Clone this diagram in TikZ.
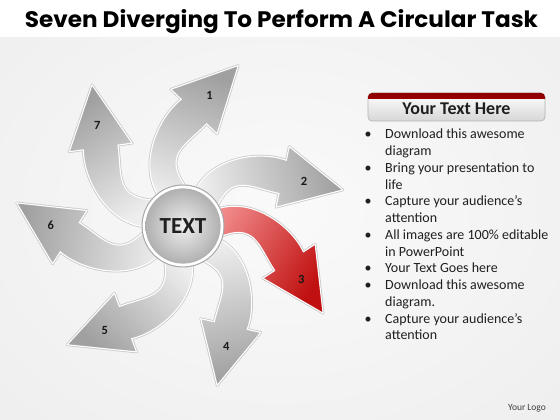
\documentclass[tikz,border=0pt]{standalone}
\usepackage{fontspec}
\setmainfont{Carlito}
\newfontfamily\titlefont{Poppins}
\definecolor{glight}{HTML}{EEEEEE}
\definecolor{gdark}{HTML}{A0A0A0}
\definecolor{rlight}{HTML}{F28C8C}
\definecolor{rdark}{HTML}{C01010}
\tikzset{
  arrowglow/.style={draw=black!22, line width=2.6pt, line join=round},
  arrowbody/.style={draw=white, line width=1.1pt, line join=round},
  numlabel/.style={font=\fontsize{12.5}{13}\selectfont\bfseries, text=black!90, inner sep=0pt},
  btxt/.style={anchor=base west, inner sep=0pt, font=\fontsize{14}{16}\selectfont, text=black!88},
  bdot/.style={anchor=base, inner sep=0pt, font=\fontsize{14}{16}\selectfont, text=black!88}
}
\newcommand\sevenarrow[6]{%
  \pgfmathsetmacro\shang{#1-90}%
  \begin{scope}[shift={(183,194)}, rotate=#1, scale=#2]
    \draw[arrowglow] (14.3,23.4) .. controls (34,62) and (90,58) .. (115.2,41.4) -- (121.1,54.1) -- (164,0) -- (94.9,-2.1) -- (100.8,10.6) .. controls (73.6,23.2) and (58.7,41.6) .. (35.7,8.6) -- cycle;
    \path[arrowbody, top color=#3, bottom color=#4, shading angle=\shang] (14.3,23.4) .. controls (34,62) and (90,58) .. (115.2,41.4) -- (121.1,54.1) -- (164,0) -- (94.9,-2.1) -- (100.8,10.6) .. controls (73.6,23.2) and (58.7,41.6) .. (35.7,8.6) -- cycle;
    \node[numlabel] (#6) at (128,17) {#5};
  \end{scope}}
\begin{document}
\begin{tikzpicture}[x=1pt,y=1pt]
\useasboundingbox (0,0) rectangle (560,420);
\shade[inner color=gray!4, outer color=gray!13] (-120,-90) rectangle (680,510);
\fill[white] (0,383) rectangle (560,420);
% title
\node[anchor=base, inner sep=0pt] (title) at (281.5,392) {\resizebox{513pt}{18pt}{\titlefont\bfseries Seven Diverging To Perform A Circular Task}};
% arrows
\sevenarrow{71}{1.035}{gdark}{glight}{1}{n1}
\sevenarrow{12.7}{1.0}{gdark}{glight}{2}{n2}
\sevenarrow{-31.9}{1.006}{rdark}{rlight}{3}{n3}
\sevenarrow{-77.9}{0.994}{gdark}{glight}{4}{n4}
\sevenarrow{-134.3}{1.012}{gdark}{glight}{5}{n5}
\sevenarrow{172.1}{1.024}{gdark}{glight}{6}{n6}
\sevenarrow{122.8}{1.024}{gdark}{glight}{7}{n7}
% centre
\fill[black!35] (183,194) circle (41.5);
\fill[white] (183,194) circle (40.4);
\shade[inner color=gray!12, outer color=gray!62] (183,194) circle (37.6);
\node[font=\fontsize{23}{24}\selectfont\bfseries, text=black!88] (c) at (183,194) {TEXT};
% header box
\shade[top color=white, bottom color=gray!32, draw=gray!60, rounded corners=4pt, line width=.6pt] (368,299) rectangle (545,327);
\begin{scope}
  \clip (360,321.5) rectangle (550,330);
  \shade[top color=red!55!black, bottom color=red!80!black, rounded corners=4pt] (368,299) rectangle (545,327);
\end{scope}
\node[font=\fontsize{18}{20}\selectfont\bfseries, text=black!88] (hdr) at (456.5,311) {Your Text Here};
% bullets
\node[bdot] (d0) at (368,281) {•};
\node[btxt] (t0) at (385,281) {Download this awesome};
\node[btxt] (t1) at (385,264.25) {diagram};
\node[bdot] (d2) at (368,247.5) {•};
\node[btxt] (t2) at (385,247.5) {Bring your presentation to};
\node[btxt] (t3) at (385,230.75) {life};
\node[bdot] (d4) at (368,214) {•};
\node[btxt] (t4) at (385,214) {Capture your audience’s};
\node[btxt] (t5) at (385,197.25) {attention};
\node[bdot] (d6) at (368,180.5) {•};
\node[btxt] (t6) at (385,180.5) {All images are 100\% editable};
\node[btxt] (t7) at (385,163.75) {in PowerPoint};
\node[bdot] (d8) at (368,147) {•};
\node[btxt] (t8) at (385,147) {Your Text Goes here};
\node[bdot] (d9) at (368,130.25) {•};
\node[btxt] (t9) at (385,130.25) {Download this awesome};
\node[btxt] (t10) at (385,113.5) {diagram.};
\node[bdot] (d11) at (368,96.75) {•};
\node[btxt] (t11) at (385,96.75) {Capture your audience’s};
\node[btxt] (t12) at (385,80) {attention};
% logo
\node[font=\fontsize{9.5}{10}\selectfont, text=black!75] (logo) at (527,12) {Your Logo};
\end{tikzpicture}
\end{document}
